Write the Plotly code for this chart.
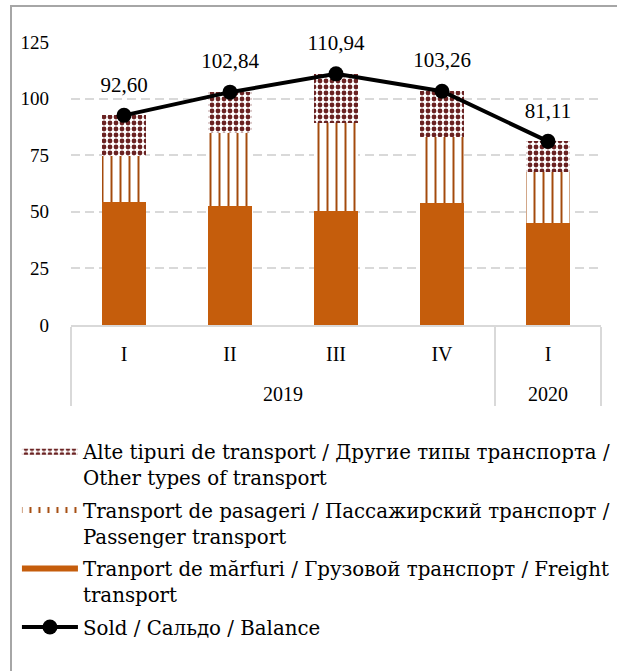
import plotly.graph_objects as go

years = ["2019", "2019", "2019", "2019", "2020"]
quarters = ["I", "II", "III", "IV", "I"]
freight = [54.5, 52.5, 50.4, 54.0, 45.2]
passenger = [20.1, 32.2, 38.7, 28.9, 22.2]
other = [18.0, 18.1, 21.8, 20.4, 13.7]
balance = [92.60, 102.84, 110.94, 103.26, 81.11]
balance_labels = ["92,60", "102,84", "110,94", "103,26", "81,11"]

name_other = "Alte tipuri de transport / Другие типы транспорта /<br>Other types of transport"
name_pass = "Transport de pasageri / Пассажирский транспорт /<br>Passenger transport"
name_freight = "Tranport de mărfuri / Грузовой транспорт / Freight<br>transport"
name_bal = "Sold / Сальдо / Balance"

FONT = "Liberation Serif"
LFONT = "DejaVu Serif"
C_FREIGHT = "#C55D0C"
C_PASS = "#A44A0C"
C_OTHER = "#6A2222"
pat_pass = dict(shape="|", fgcolor=C_PASS, bgcolor="white", fgopacity=1, size=9, solidity=0.22)
pat_other = dict(shape=".", fgcolor=C_OTHER, bgcolor="white", fgopacity=1, size=6, solidity=0.5)

# extra blank line under the quarter labels pushes the year row lower
x = [years, [q + "<br> " for q in quarters]]

fig = go.Figure()
fig.add_trace(go.Bar(x=x, y=freight, name=name_freight, width=0.42, showlegend=False,
                     marker=dict(color=C_FREIGHT, line=dict(width=0))))
fig.add_trace(go.Bar(x=x, y=passenger, name=name_pass, width=0.42, showlegend=False,
                     marker=dict(color="white", line=dict(width=0), pattern=pat_pass)))
fig.add_trace(go.Bar(x=x, y=other, name=name_other, width=0.42, showlegend=False,
                     marker=dict(color="white", line=dict(width=0), pattern=pat_other)))
fig.add_trace(go.Scatter(x=x, y=balance, name=name_bal, mode="lines+markers", legendgroup="b",
                         line=dict(color="black", width=4),
                         marker=dict(color="black", size=15), cliponaxis=False, legendrank=4))
# value labels (invisible marker gives the label offset above the point)
fig.add_trace(go.Scatter(x=x, y=balance, mode="markers+text", text=balance_labels,
                         textposition="top center", showlegend=False, hoverinfo="skip",
                         textfont=dict(family=FONT, size=21, color="black"),
                         marker=dict(size=28, color="rgba(0,0,0,0)"), cliponaxis=False))

# legend keys (wide swatches) for the bar series
for nm, fc, pat, rank, grp in [(name_other, "white", pat_other, 1, "o"),
                               (name_pass, "white", pat_pass, 2, "p"),
                               (name_freight, C_FREIGHT, None, 3, "f")]:
    kw = dict(fillpattern=pat) if pat else {}
    fig.add_trace(go.Scatter(x=[None], y=[None], name=nm, mode="none", fill="toself",
                             fillcolor=fc, legendgroup=grp, legendrank=rank, **kw))

fig.update_layout(
    width=617, height=671,
    barmode="stack",
    plot_bgcolor="white", paper_bgcolor="white",
    margin=dict(l=71, r=16, t=42, b=346),
    font=dict(family=FONT, size=19, color="black"),
    showlegend=True,
    legend=dict(x=-0.102, y=-0.379, xanchor="left", yanchor="top",
                font=dict(family=LFONT, size=19.8, color="black"),
                itemwidth=56, valign="top", traceorder="grouped", tracegroupgap=4,
                bgcolor="rgba(0,0,0,0)"),
    shapes=[dict(type="path", xref="paper", yref="paper",
                 path="M -0.1132,-3 L -0.1132,1.127 L 1.5,1.127",
                 line=dict(color="#A6A6A6", width=2), layer="below")],
)
fig.update_yaxes(range=[0, 125], tickvals=[0, 25, 50, 75, 100, 125],
                 showgrid=True, gridcolor="#D9D9D9", gridwidth=2, griddash="9px,5px",
                 zeroline=False, showline=False, ticklabelstandoff=21,
                 tickfont=dict(family=FONT, size=19))
fig.update_xaxes(type="multicategory", showline=True, linecolor="#D9D9D9", linewidth=2,
                 showdividers=True, dividercolor="#D9D9D9", dividerwidth=2,
                 ticks="", ticklabelstandoff=10, tickfont=dict(family=FONT, size=20))

fig.write_html("out.html", config={"displayModeBar": False},
               post_script="document.body.style.margin='0';document.body.style.overflow='hidden';")
